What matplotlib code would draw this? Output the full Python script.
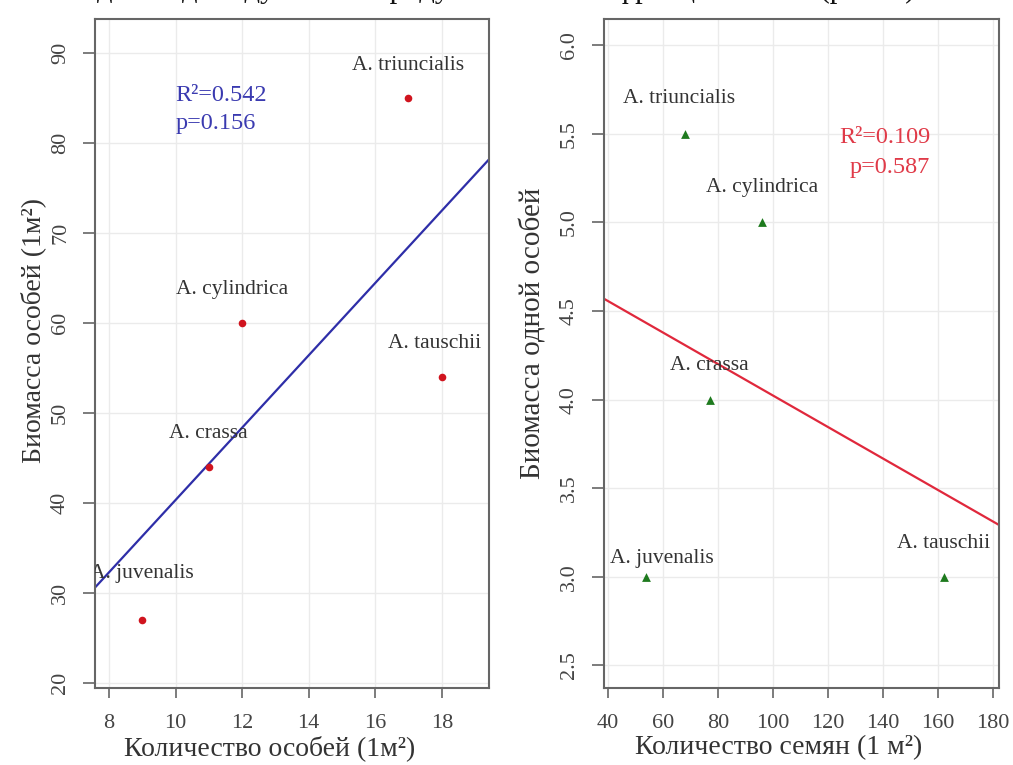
import matplotlib
matplotlib.use("Agg")
import matplotlib.pyplot as plt
import numpy as np
from matplotlib.transforms import offset_copy

plt.rcParams["font.family"] = ["Liberation Serif", "DejaVu Serif"]

# left panel: number of plants vs biomass
species = ["A. triuncialis", "A. cylindrica", "A. tauschii", "A. crassa", "A. juvenalis"]
plants_n = [17, 12, 18, 11, 9]
biomass_total = [85, 60, 54, 44, 27]

# right panel: number of seeds vs biomass per plant
seeds_n = [68, 96, 162, 77, 54]
biomass_one = [5.5, 5.0, 3.0, 4.0, 3.0]

stats_left = ("0.542", "0.156")
stats_right = ("0.109", "0.587")

# label offsets in pixels (dx, dy)
offs_left = [(0, 33), (-10, 34), (-7, 34), (0, 34), (0, 46)]
offs_right = [(-6, 35), (0, 35), (0, 33), (0, 34), (16, 18)]

W, H = 1013, 765
fig = plt.figure(figsize=(W / 100, H / 100), dpi=100)

GRID = "#ebebeb"
SPINE = "#666666"
TICKC = "#444444"


def px_axes(x0, y0, x1, y1):
    return fig.add_axes([x0 / W, 1 - y1 / H, (x1 - x0) / W, (y1 - y0) / H])


def style(ax):
    for s in ax.spines.values():
        s.set_color(SPINE)
        s.set_linewidth(1.5)
    ax.grid(True, color=GRID, linewidth=1.0)
    ax.set_axisbelow(True)
    ax.tick_params(axis="y", length=9, width=1.2, color=SPINE, labelcolor=TICKC,
                   labelsize=16, pad=9, labelrotation=90)
    ax.tick_params(axis="x", length=7, width=1.2, color=SPINE, labelcolor=TICKC,
                   labelsize=16, pad=12)
    for lab in ax.get_yticklabels():
        lab.set_va("center")


def fit_line(ax, x, y, color):
    k, b = np.polyfit(x, y, 1)
    xl = np.array(ax.get_xlim())
    ax.plot(xl, k * xl + b, color=color, linewidth=1.6, zorder=2)


def labels(ax, xs, ys, offs):
    for name, x, y, (dx, dy) in zip(species, xs, ys, offs):
        tr = offset_copy(ax.transData, fig=fig, x=dx, y=dy, units="dots")
        t = ax.text(x, y, name, transform=tr, ha="center", va="center",
                    fontsize=15.5, color="#333333", zorder=4)
        t.set_clip_box(ax.bbox)
        t.set_clip_on(True)


def axis_labels(ax, xlab, ylab, xpos, ypos, ysize):
    ax.set_xlabel(xlab, fontsize=20, color="#333333", va="center")
    ax.set_ylabel(ylab, fontsize=ysize, color="#333333", va="center")
    ax.xaxis.set_label_coords(*xpos)
    ax.yaxis.set_label_coords(*ypos)


# left
ax1 = px_axes(95, 19, 489, 688)
ax1.set_xlim(7.58, 19.42)
ax1.set_ylim(19.44, 93.8)
ax1.set_xticks(range(8, 19, 2))
ax1.set_yticks(range(20, 91, 10))
style(ax1)
fit_line(ax1, plants_n, biomass_total, "#2e2ea8")
ax1.scatter(plants_n, biomass_total, s=30, color="#d0141e", zorder=3, linewidths=0)
labels(ax1, plants_n, biomass_total, offs_left)
ax1.text(10, 85.3, "R²=" + stats_left[0], color="#3a3ab0", fontsize=17.5, ha="left", va="center")
ax1.text(10, 82.2, "p=" + stats_left[1], color="#3a3ab0", fontsize=17.5, ha="left", va="center")
axis_labels(ax1, "Количество особей (1м²)", "Биомасса особей (1м²)",
            (0.442, -0.0897), (-0.157, 0.535), 20)

# right
ax2 = px_axes(604, 19, 999, 688)
ax2.set_xlim(38.65, 182.1)
ax2.set_ylim(2.373, 6.148)
ax2.set_xticks(range(40, 181, 20))
ax2.set_yticks(np.arange(2.5, 6.01, 0.5))
style(ax2)
fit_line(ax2, seeds_n, biomass_one, "#e0283c")
ax2.scatter(seeds_n, biomass_one, s=40, marker="^", color="#1e7a1e", zorder=3, linewidths=0)
labels(ax2, seeds_n, biomass_one, offs_right)
ax2.text(157.2, 5.48, "R²=" + stats_right[0], color="#e03a48", fontsize=17.5, ha="right", va="center")
ax2.text(157.2, 5.31, "p=" + stats_right[1], color="#e03a48", fontsize=17.5, ha="right", va="center")
axis_labels(ax2, "Количество семян (1 м²)", "Биомасса одной особей",
            (0.443, -0.0897), (-0.18, 0.530), 21)

# clipped caption line from the page above
fig.text(0.5, 1.0 + 3 / H, "для индивидуальной продуктивности и фракции семян (рис. 4)",
         ha="center", va="baseline", fontsize=22, color="#111111")

fig.savefig("out.png", dpi=100)
